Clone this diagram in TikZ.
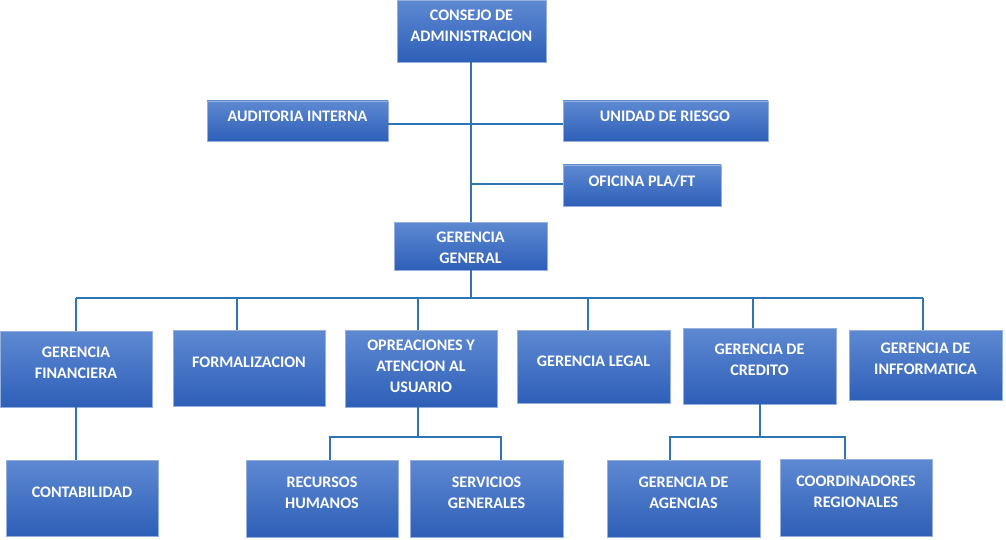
\documentclass[tikz,border=0pt]{standalone}
\usepackage{fontspec}
\setmainfont{Carlito}
\definecolor{cajaarriba}{RGB}{94,137,210}
\definecolor{cajaabajo}{RGB}{46,95,184}
\definecolor{cajaborde}{RGB}{150,175,220}
\definecolor{lineaazul}{RGB}{46,117,182}
\begin{document}
\begin{tikzpicture}[x=1pt,y=-1pt,
  caja/.style={draw=cajaborde,line width=0.8pt,top color=cajaarriba,bottom color=cajaabajo,anchor=north west,inner sep=0pt,outer sep=0pt},
  rotulo/.style={text=white,font=\bfseries\fontsize{16.1}{21}\selectfont,align=center,inner sep=0pt},
  linea/.style={draw=lineaazul,line width=2pt}]
\useasboundingbox (0,0) rectangle (1006,540);
% cajas
\node[caja,minimum width=149,minimum height=62] (cons) at (397,0) {};
\node[caja,minimum width=181,minimum height=40] (aud) at (207,101) {};
\node[caja,minimum width=205,minimum height=40] (uni) at (563,101) {};
\node[caja,minimum width=158,minimum height=41] (ofi) at (563,165) {};
\node[caja,minimum width=153,minimum height=48] (ger) at (394,222) {};
\node[caja,minimum width=152,minimum height=76] (fin) at (0,331) {};
\node[caja,minimum width=152,minimum height=76] (form) at (173,330) {};
\node[caja,minimum width=152,minimum height=77] (oper) at (345,330) {};
\node[caja,minimum width=153,minimum height=73] (legal) at (517,330) {};
\node[caja,minimum width=153,minimum height=76] (cred) at (683,328) {};
\node[caja,minimum width=153,minimum height=70] (info) at (849,330) {};
\node[caja,minimum width=152,minimum height=76] (cont) at (6,460) {};
\node[caja,minimum width=152,minimum height=77] (rrhh) at (246,460) {};
\node[caja,minimum width=153,minimum height=77] (serv) at (410,460) {};
\node[caja,minimum width=153,minimum height=77] (agen) at (607,460) {};
\node[caja,minimum width=152,minimum height=77] (coor) at (780,459) {};
% textos
\node[rotulo] (consT) at (471.5,26) {CONSEJO DE\\ADMINISTRACION};
\node[rotulo] (audT) at (297.5,116.5) {AUDITORIA INTERNA};
\node[rotulo] (uniT) at (665,116.5) {UNIDAD DE RIESGO};
\node[rotulo] (ofiT) at (642,181.5) {OFICINA PLA/FT};
\node[rotulo] (gerT) at (470.5,248) {GERENCIA\\GENERAL};
\node[rotulo] (finT) at (76,363) {GERENCIA\\FINANCIERA};
\node[rotulo] (formT) at (249,362.5) {FORMALIZACION};
\node[rotulo] (operT) at (421,366) {OPREACIONES Y\\ATENCION AL\\USUARIO};
\node[rotulo] (legalT) at (593.5,361.5) {GERENCIA LEGAL};
\node[rotulo] (credT) at (759.5,360) {GERENCIA DE\\CREDITO};
\node[rotulo] (infoT) at (925.5,358.5) {GERENCIA DE\\INFFORMATICA};
\node[rotulo] (contT) at (82,492.5) {CONTABILIDAD};
\node[rotulo] (rrhhT) at (322,493) {RECURSOS\\HUMANOS};
\node[rotulo] (servT) at (486.5,493) {SERVICIOS\\GENERALES};
\node[rotulo] (agenT) at (683.5,493) {GERENCIA DE\\AGENCIAS};
\node[rotulo] (coorT) at (856,492) {COORDINADORES\\REGIONALES};
% puntos de union
\coordinate (nudoA) at (471,124);
\coordinate (nudoB) at (471,184);
\coordinate (bus) at (471,298);
\coordinate (bus1) at (76,298);
\coordinate (bus2) at (237,298);
\coordinate (bus3) at (418,298);
\coordinate (bus4) at (588,298);
\coordinate (bus5) at (753,298);
\coordinate (bus6) at (923,298);
\coordinate (opIzq) at (330,437);
\coordinate (opDer) at (501,437);
\coordinate (crIzq) at (670,437);
\coordinate (crDer) at (845,437);
% lineas
\draw[linea] (cons.south -| bus) -- (ger.north -| bus);
\draw[linea] (ger.south -| bus) -- (bus);
\draw[linea] (aud.east |- nudoA) -- (uni.west |- nudoA);
\draw[linea] (nudoB) -- (ofi.west |- nudoB);
\draw[linea] (bus1) -- (bus6);
\draw[linea] (bus1) -- (bus1 |- fin.north);
\draw[linea] (bus2) -- (bus2 |- form.north);
\draw[linea] (bus3) -- (bus3 |- oper.north);
\draw[linea] (bus4) -- (bus4 |- legal.north);
\draw[linea] (bus5) -- (bus5 |- cred.north);
\draw[linea] (bus6) -- (bus6 |- info.north);
\draw[linea] (fin.south) -- (fin.south |- cont.north);
\draw[linea] (oper.south -| bus3) -- (bus3 |- opIzq);
\draw[linea] (opIzq |- rrhh.north) -- (opIzq) -- (opDer) -- (opDer |- serv.north);
\draw[linea] (cred.south -| 760,0) -- (760,437);
\draw[linea] (crIzq |- agen.north) -- (crIzq) -- (crDer) -- (crDer |- coor.north);
\end{tikzpicture}
\end{document}
